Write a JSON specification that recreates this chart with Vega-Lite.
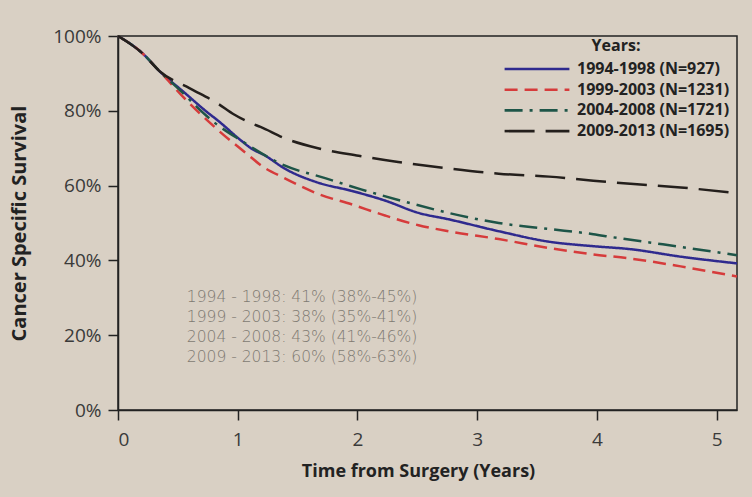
{
  "$schema": "https://vega.github.io/schema/vega-lite/v6.json",
  "autosize": "none",
  "width": 619,
  "height": 374,
  "padding": {"left": 118, "top": 36, "right": 15, "bottom": 87},
  "background": "#d9d0c4",
  "config": {
    "font": "Open Sans",
    "view": {"stroke": "#222222", "strokeWidth": 1.5}
  },
  "datasets": {
    "curves": [
      {"t": 0, "s": 1.0, "g": "1994-1998 (N=927)"},
      {"t": 0.2, "s": 0.955, "g": "1994-1998 (N=927)"},
      {"t": 0.35, "s": 0.905, "g": "1994-1998 (N=927)"},
      {"t": 0.55, "s": 0.85, "g": "1994-1998 (N=927)"},
      {"t": 0.75, "s": 0.795, "g": "1994-1998 (N=927)"},
      {"t": 0.83, "s": 0.775, "g": "1994-1998 (N=927)"},
      {"t": 1.03, "s": 0.72, "g": "1994-1998 (N=927)"},
      {"t": 1.11, "s": 0.7, "g": "1994-1998 (N=927)"},
      {"t": 1.23, "s": 0.68, "g": "1994-1998 (N=927)"},
      {"t": 1.39, "s": 0.646, "g": "1994-1998 (N=927)"},
      {"t": 1.67, "s": 0.608, "g": "1994-1998 (N=927)"},
      {"t": 1.95, "s": 0.586, "g": "1994-1998 (N=927)"},
      {"t": 2.23, "s": 0.56, "g": "1994-1998 (N=927)"},
      {"t": 2.51, "s": 0.527, "g": "1994-1998 (N=927)"},
      {"t": 2.76, "s": 0.51, "g": "1994-1998 (N=927)"},
      {"t": 3.18, "s": 0.478, "g": "1994-1998 (N=927)"},
      {"t": 3.6, "s": 0.45, "g": "1994-1998 (N=927)"},
      {"t": 3.97, "s": 0.438, "g": "1994-1998 (N=927)"},
      {"t": 4.28, "s": 0.43, "g": "1994-1998 (N=927)"},
      {"t": 4.7, "s": 0.41, "g": "1994-1998 (N=927)"},
      {"t": 5.17, "s": 0.392, "g": "1994-1998 (N=927)"},

      {"t": 0, "s": 1.0, "g": "1999-2003 (N=1231)"},
      {"t": 0.2, "s": 0.955, "g": "1999-2003 (N=1231)"},
      {"t": 0.35, "s": 0.905, "g": "1999-2003 (N=1231)"},
      {"t": 0.55, "s": 0.835, "g": "1999-2003 (N=1231)"},
      {"t": 0.83, "s": 0.75, "g": "1999-2003 (N=1231)"},
      {"t": 1.11, "s": 0.676, "g": "1999-2003 (N=1231)"},
      {"t": 1.19, "s": 0.655, "g": "1999-2003 (N=1231)"},
      {"t": 1.39, "s": 0.62, "g": "1999-2003 (N=1231)"},
      {"t": 1.67, "s": 0.578, "g": "1999-2003 (N=1231)"},
      {"t": 1.95, "s": 0.55, "g": "1999-2003 (N=1231)"},
      {"t": 2.23, "s": 0.52, "g": "1999-2003 (N=1231)"},
      {"t": 2.51, "s": 0.494, "g": "1999-2003 (N=1231)"},
      {"t": 2.76, "s": 0.478, "g": "1999-2003 (N=1231)"},
      {"t": 3.18, "s": 0.457, "g": "1999-2003 (N=1231)"},
      {"t": 3.6, "s": 0.433, "g": "1999-2003 (N=1231)"},
      {"t": 3.97, "s": 0.416, "g": "1999-2003 (N=1231)"},
      {"t": 4.28, "s": 0.405, "g": "1999-2003 (N=1231)"},
      {"t": 4.7, "s": 0.384, "g": "1999-2003 (N=1231)"},
      {"t": 5.17, "s": 0.357, "g": "1999-2003 (N=1231)"},

      {"t": 0, "s": 1.0, "g": "2004-2008 (N=1721)"},
      {"t": 0.2, "s": 0.955, "g": "2004-2008 (N=1721)"},
      {"t": 0.35, "s": 0.905, "g": "2004-2008 (N=1721)"},
      {"t": 0.55, "s": 0.845, "g": "2004-2008 (N=1721)"},
      {"t": 0.66, "s": 0.81, "g": "2004-2008 (N=1721)"},
      {"t": 0.8, "s": 0.77, "g": "2004-2008 (N=1721)"},
      {"t": 1.03, "s": 0.72, "g": "2004-2008 (N=1721)"},
      {"t": 1.39, "s": 0.654, "g": "2004-2008 (N=1721)"},
      {"t": 1.73, "s": 0.62, "g": "2004-2008 (N=1721)"},
      {"t": 2.03, "s": 0.59, "g": "2004-2008 (N=1721)"},
      {"t": 2.43, "s": 0.554, "g": "2004-2008 (N=1721)"},
      {"t": 2.76, "s": 0.527, "g": "2004-2008 (N=1721)"},
      {"t": 3.18, "s": 0.5, "g": "2004-2008 (N=1721)"},
      {"t": 3.6, "s": 0.484, "g": "2004-2008 (N=1721)"},
      {"t": 3.97, "s": 0.47, "g": "2004-2008 (N=1721)"},
      {"t": 4.13, "s": 0.462, "g": "2004-2008 (N=1721)"},
      {"t": 4.55, "s": 0.443, "g": "2004-2008 (N=1721)"},
      {"t": 5.17, "s": 0.414, "g": "2004-2008 (N=1721)"},

      {"t": 0, "s": 1.0, "g": "2009-2013 (N=1695)"},
      {"t": 0.2, "s": 0.955, "g": "2009-2013 (N=1695)"},
      {"t": 0.35, "s": 0.905, "g": "2009-2013 (N=1695)"},
      {"t": 0.6, "s": 0.86, "g": "2009-2013 (N=1695)"},
      {"t": 0.83, "s": 0.82, "g": "2009-2013 (N=1695)"},
      {"t": 0.97, "s": 0.79, "g": "2009-2013 (N=1695)"},
      {"t": 1.11, "s": 0.767, "g": "2009-2013 (N=1695)"},
      {"t": 1.19, "s": 0.757, "g": "2009-2013 (N=1695)"},
      {"t": 1.39, "s": 0.727, "g": "2009-2013 (N=1695)"},
      {"t": 1.67, "s": 0.7, "g": "2009-2013 (N=1695)"},
      {"t": 2.01, "s": 0.68, "g": "2009-2013 (N=1695)"},
      {"t": 2.34, "s": 0.663, "g": "2009-2013 (N=1695)"},
      {"t": 2.76, "s": 0.646, "g": "2009-2013 (N=1695)"},
      {"t": 3.18, "s": 0.632, "g": "2009-2013 (N=1695)"},
      {"t": 3.6, "s": 0.624, "g": "2009-2013 (N=1695)"},
      {"t": 3.97, "s": 0.613, "g": "2009-2013 (N=1695)"},
      {"t": 4.28, "s": 0.605, "g": "2009-2013 (N=1695)"},
      {"t": 4.7, "s": 0.595, "g": "2009-2013 (N=1695)"},
      {"t": 5.17, "s": 0.58, "g": "2009-2013 (N=1695)"}
    ],
    "notes": [
      {"t": 0.575, "s": 0.302, "label": "1994 - 1998: 41% (38%-45%)"},
      {"t": 0.575, "s": 0.249, "label": "1999 - 2003: 38% (35%-41%)"},
      {"t": 0.575, "s": 0.195, "label": "2004 - 2008: 43% (41%-46%)"},
      {"t": 0.575, "s": 0.142, "label": "2009 - 2013: 60% (58%-63%)"}
    ]
  },
  "layer": [
    {
      "data": {"name": "curves"},
      "mark": {"type": "line", "strokeWidth": 2.5, "interpolate": "monotone"},
      "encoding": {
        "x": {
          "field": "t", "type": "quantitative",
          "scale": {"domain": [0, 5.17], "nice": false, "zero": true},
          "axis": {
            "title": "Time from Surgery (Years)",
            "values": [0, 1, 2, 3, 4, 5],
            "format": "d",
            "grid": false,
            "domainColor": "#222222", "domainWidth": 1.5,
            "tickColor": "#222222", "tickWidth": 1.5, "tickSize": 10,
            "labelFontSize": 19, "labelColor": "#3a3a3a", "labelPadding": 10,
            "titleFontSize": 18, "titleFontWeight": "bold", "titleColor": "#222222",
            "titlePadding": 13, "titleX": 300
          }
        },
        "y": {
          "field": "s", "type": "quantitative",
          "scale": {"domain": [0, 1], "nice": false},
          "axis": {
            "title": "Cancer Specific Survival",
            "values": [0, 0.2, 0.4, 0.6, 0.8, 1],
            "format": ".0%",
            "grid": false,
            "domainColor": "#222222", "domainWidth": 1.5,
            "tickColor": "#222222", "tickWidth": 1.5, "tickSize": 10,
            "labelFontSize": 19, "labelColor": "#3a3a3a", "labelPadding": 7,
            "titleFontSize": 20, "titleFontWeight": "bold", "titleColor": "#222222",
            "titlePadding": 23
          }
        },
        "color": {
          "field": "g", "type": "nominal",
          "scale": {
            "domain": ["1994-1998 (N=927)", "1999-2003 (N=1231)", "2004-2008 (N=1721)", "2009-2013 (N=1695)"],
            "range": ["#2f2a8e", "#d63b3b", "#1e5548", "#241f1c"]
          },
          "legend": {
            "title": "Years:",
            "orient": "none",
            "legendX": 385,
            "legendY": 2,
            "titleAnchor": "middle",
            "titleFontSize": 16, "titleFontWeight": "bold", "titleColor": "#222222",
            "titlePadding": 7,
            "labelFontSize": 16, "labelFontWeight": "bold", "labelColor": "#222222",
            "symbolType": "stroke", "symbolSize": 4200, "symbolStrokeWidth": 2.6,
            "clipHeight": 16, "rowPadding": 4.7, "labelOffset": 6
          }
        },
        "strokeDash": {
          "field": "g", "type": "nominal",
          "scale": {
            "domain": ["1994-1998 (N=927)", "1999-2003 (N=1231)", "2004-2008 (N=1721)", "2009-2013 (N=1695)"],
            "range": [[1, 0], [13, 7], [18, 7, 3, 7], [30, 11]]
          },
          "legend": {
            "title": "Years:",
            "orient": "none",
            "legendX": 385,
            "legendY": 2,
            "titleAnchor": "middle",
            "titleFontSize": 16, "titleFontWeight": "bold", "titleColor": "#222222",
            "titlePadding": 7,
            "labelFontSize": 16, "labelFontWeight": "bold", "labelColor": "#222222",
            "symbolType": "stroke", "symbolSize": 4200, "symbolStrokeWidth": 2.6,
            "clipHeight": 16, "rowPadding": 4.7, "labelOffset": 6
          }
        }
      }
    },
    {
      "data": {"name": "notes"},
      "mark": {"type": "text", "align": "left", "baseline": "middle", "fontSize": 15.5, "fontWeight": 200, "color": "#7f7a72", "font": "DejaVu Sans"},
      "encoding": {
        "x": {"field": "t", "type": "quantitative"},
        "y": {"field": "s", "type": "quantitative"},
        "text": {"field": "label"}
      }
    }
  ]
}
